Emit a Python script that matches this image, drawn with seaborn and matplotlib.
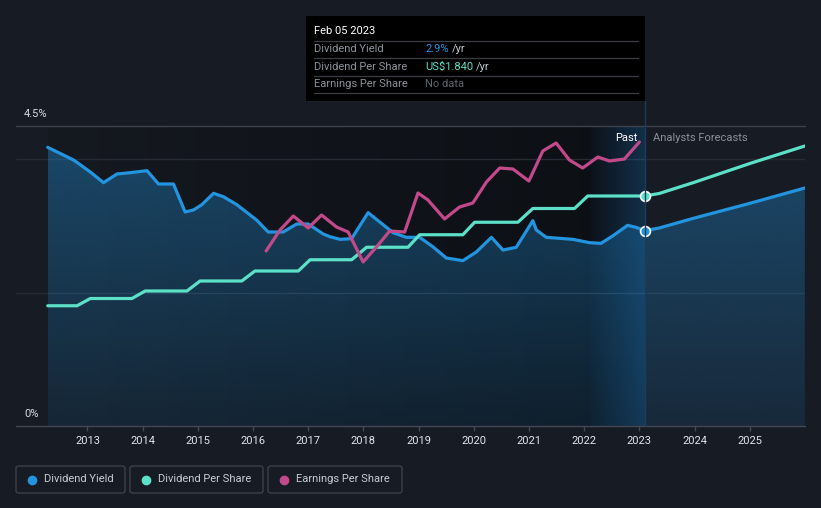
import numpy as np
import pandas as pd
import matplotlib
matplotlib.use("Agg")
import matplotlib.pyplot as plt
import matplotlib.dates as mdates
from matplotlib.patches import FancyBboxPatch, Rectangle
from matplotlib.lines import Line2D
from matplotlib.colors import to_rgb
import seaborn as sns

# ---------------- data ----------------
yield_dates = ["2012-04-13", "2012-10-01", "2013-01-20", "2013-04-17", "2013-07-15", "2013-10-12",
               "2014-01-30", "2014-04-16", "2014-07-24", "2014-10-09", "2014-12-03", "2015-01-28",
               "2015-04-15", "2015-06-19", "2015-09-16", "2016-01-25", "2016-04-11", "2016-07-19",
               "2016-10-16", "2017-01-01", "2017-04-10", "2017-05-24", "2017-07-30", "2017-10-15",
               "2018-02-01", "2018-04-19", "2018-07-16", "2018-10-12", "2019-01-08", "2019-04-05",
               "2019-07-03", "2019-10-21", "2020-01-18", "2020-04-27", "2020-07-12", "2020-10-08",
               "2021-01-26", "2021-02-18", "2021-04-25", "2021-10-18", "2022-02-05", "2022-04-22",
               "2022-07-08", "2022-10-15", "2022-12-10", "2023-02-05", "2023-05-12", "2024-01-01",
               "2025-01-01", "2025-12-31"]
yield_vals = [4.18, 3.99, 3.81, 3.65, 3.78, 3.80,
              3.83, 3.63, 3.63, 3.21, 3.24, 3.32,
              3.49, 3.44, 3.32, 3.09, 2.91, 2.91,
              3.03, 3.03, 2.88, 2.84, 2.80, 2.81,
              3.20, 3.06, 2.90, 2.83, 2.83, 2.69,
              2.52, 2.48, 2.61, 2.83, 2.64, 2.68,
              3.08, 2.94, 2.83, 2.80, 2.75, 2.74,
              2.85, 3.01, 2.98, 2.93, 2.97, 3.12,
              3.34, 3.57]

dps_dates = ["2012-04-13", "2012-10-24", "2013-01-20", "2013-10-22", "2014-01-18", "2014-10-21",
             "2015-01-16", "2015-10-19", "2016-01-14", "2016-10-27", "2017-01-13", "2017-10-15",
             "2018-01-22", "2018-10-23", "2019-01-08", "2019-10-21", "2020-01-07", "2020-10-19",
             "2021-01-26", "2021-10-29", "2022-01-24", "2023-02-05", "2023-05-12", "2024-01-01",
             "2025-01-01", "2025-12-31"]
dps_vals = [0.962, 0.962, 1.02, 1.02, 1.08, 1.08,
            1.16, 1.16, 1.24, 1.24, 1.33, 1.33,
            1.43, 1.43, 1.53, 1.53, 1.63, 1.63,
            1.74, 1.74, 1.84, 1.84, 1.86, 1.95,
            2.10, 2.24]

eps_dates = ["2016-03-28", "2016-06-28", "2016-09-24", "2017-01-01", "2017-03-30", "2017-07-07",
             "2017-09-22", "2017-12-30", "2018-03-28", "2018-06-24", "2018-10-01", "2018-12-28",
             "2019-03-04", "2019-06-22", "2019-09-29", "2019-12-26", "2020-03-25", "2020-06-21",
             "2020-09-16", "2020-12-31", "2021-04-02", "2021-06-29", "2021-09-25", "2021-12-22",
             "2022-04-01", "2022-06-17", "2022-09-24", "2023-01-01"]
eps_vals = [1.75, 1.96, 2.10, 1.98, 2.11, 1.99,
            1.94, 1.64, 1.79, 1.95, 1.94, 2.33,
            2.26, 2.07, 2.19, 2.23, 2.44, 2.58,
            2.57, 2.45, 2.75, 2.83, 2.66, 2.58,
            2.69, 2.65, 2.67, 2.84]

x_ticks = [str(y) for y in range(2013, 2026)]
y_labels = ["4.5%", "0%"]
legend_names = ["Dividend Yield", "Dividend Per Share", "Earnings Per Share"]
tooltip_date = "Feb 05 2023"
tooltip_values = ["2.9%", "US$1.840", "No data"]
marker_date = "2023-02-05"
band_start = "2022-02-05"

# ---------------- style ----------------
BG = "#161b24"
DARK = "#0c0f14"
C_YIELD = "#2394df"
C_DPS = "#5ce0c8"
C_EPS = "#c2498a"

sns.set_theme(style="dark")
plt.rcParams['font.family'] = ['Roboto', 'DejaVu Sans']

W, H = 821, 508
fig = plt.figure(figsize=(W / 100, H / 100), dpi=100, facecolor=BG)


def fx(x):
    return x / W


def fy(y):
    return 1 - y / H


ax = fig.add_axes([fx(16), fy(426), fx(805) - fx(16), fy(126) - fy(426)])
ax.set_facecolor(BG)

ydf = pd.DataFrame({"date": pd.to_datetime(yield_dates), "v": yield_vals})
ddf = pd.DataFrame({"date": pd.to_datetime(dps_dates), "v": dps_vals})
edf = pd.DataFrame({"date": pd.to_datetime(eps_dates), "v": eps_vals})

xmin = mdates.date2num(pd.Timestamp("2011-09-16"))
xmax = mdates.date2num(pd.Timestamp("2026-01-01"))
x_start = mdates.date2num(ydf["date"].iloc[0])
x_mark = mdates.date2num(pd.Timestamp(marker_date))
x_band = mdates.date2num(pd.Timestamp(band_start))

# darker "past" background, horizontal gradient
c0 = np.array(to_rgb("#151920"))
c1 = np.array(to_rgb(DARK))
t = np.linspace(0, 1, 256)
grad = (c0[None, :] * (1 - t[:, None]) + c1[None, :] * t[:, None])[None, :, :]
ax.imshow(grad, extent=[x_start, x_mark, 0, 4.5], aspect="auto", zorder=0.5, interpolation="bicubic")

# gridlines
for gv in [2, 4]:
    ax.axhline(gv, color="#262b34", lw=1, zorder=1)

# gradient fill under dividend yield
poly = ax.fill_between(ydf["date"], 0, ydf["v"], color="none", lw=0)
rgb = np.array(to_rgb(C_YIELD))
tt = np.linspace(1, 0, 256)  # top -> bottom
alpha = 0.12 + 0.28 * tt
fill_img = np.zeros((256, 1, 4))
fill_img[:, 0, :3] = rgb
fill_img[:, 0, 3] = alpha
im = ax.imshow(fill_img, extent=[x_start, xmax, 0, 4.5], aspect="auto", zorder=1.5, interpolation="bicubic")
im.set_clip_path(poly.get_paths()[0], transform=ax.transData)

# past-12-months highlight band
band = np.zeros((1, 256, 4))
band[0, :, :3] = np.array(to_rgb("#1f78c0"))
band[0, :, 3] = np.linspace(0.03, 0.32, 256)
ax.imshow(band, extent=[x_band, x_mark, 0, 4.5], aspect="auto", zorder=1.6, interpolation="bicubic")

sns.lineplot(data=ydf, x="date", y="v", ax=ax, color=C_YIELD, lw=2.3, zorder=3)
mi = yield_dates.index(marker_date)
ax.scatter([ydf["date"].iloc[mi]], [ydf["v"].iloc[mi]], s=50, color=C_YIELD, edgecolor="white",
           linewidth=1.2, zorder=6)

ax.set_xlim(xmin, xmax)
ax.set_ylim(0, 4.5)

# twin axes for DPS and EPS (own hidden scales)
ax_d = ax.twinx()
ax_e = ax.twinx()
for a in (ax_d, ax_e):
    a.patch.set_visible(False)
    a.grid(False)
    for s in a.spines.values():
        s.set_visible(False)
ax_d.set_ylim(0, 2.4)
ax_e.set_ylim(0, 3.0)

sns.lineplot(data=edf, x="date", y="v", ax=ax_e, color=C_EPS, lw=2.3)
sns.lineplot(data=ddf, x="date", y="v", ax=ax_d, color=C_DPS, lw=2.3)
di = dps_dates.index(marker_date)
ax_d.scatter([ddf["date"].iloc[di]], [ddf["v"].iloc[di]], s=50, color=C_DPS, edgecolor="white",
             linewidth=1.2, zorder=6)
for a in (ax_d, ax_e):
    a.set_ylabel("")
    a.set_yticks([])
    a.set_xlim(xmin, xmax)
    a.tick_params(axis="x", bottom=False, labelbottom=False)

# axes styling
ax.grid(False)
for side in ["left", "right"]:
    ax.spines[side].set_visible(False)
ax.spines["top"].set_color("#3d424c")
ax.spines["top"].set_linewidth(1)
ax.spines["bottom"].set_color("#434852")
ax.spines["bottom"].set_linewidth(1)
ax.set_yticks([])
ax.set_xlabel("")
ax.set_ylabel("")
ax.set_xticks([mdates.date2num(pd.Timestamp(f"{y}-01-01")) for y in x_ticks])
ax.set_xticklabels(x_ticks)
ax.tick_params(axis="x", colors="#434852", labelcolor="#e2e5ea", labelsize=8, length=3.5,
               width=1, pad=3.5, direction="out", bottom=True)

# y labels
fig.text(fx(24), fy(114), y_labels[0], color="#d8dbe0", fontsize=8, ha="left", va="center")
fig.text(fx(24), fy(414), y_labels[1], color="#d8dbe0", fontsize=8, ha="left", va="center")

# Past / Analysts Forecasts
fig.text(fx(637), fy(138), "Past", color="#ffffff", fontsize=8, ha="right", va="center")
fig.text(fx(653), fy(138), "Analysts Forecasts", color="#8b9099", fontsize=8, ha="left", va="center")

# vertical tooltip line
fig.add_artist(Line2D([fx(645), fx(645)], [fy(101), fy(426)], color="#1f3b56", lw=1, zorder=2))

# tooltip box
fig.add_artist(Rectangle((fx(306), fy(101)), fx(645) - fx(306), fy(16) - fy(101),
                         facecolor="#000000", edgecolor="none", zorder=10))
fig.text(fx(314), fy(31), tooltip_date, color="#ffffff", fontsize=8, ha="left", va="center", zorder=11)
for sy in [41.3, 58.3, 76, 92.7]:
    fig.add_artist(Line2D([fx(314), fx(638)], [fy(sy), fy(sy)], color="#3a3d43", lw=0.9, zorder=11))
rows_y = [49.5, 66.5, 84]
val_colors = [C_YIELD, C_DPS, "#5f646c"]
yr_x = [451.5, 475.5, None]
for name, val, vc, ry, yx in zip(legend_names, tooltip_values, val_colors, rows_y, yr_x):
    fig.text(fx(314), fy(ry), name, color="#8e939a", fontsize=8, ha="left", va="center", zorder=11)
    fig.text(fx(425), fy(ry), val, color=vc, fontsize=8, ha="left", va="center", zorder=11)
    if yx is not None:
        fig.text(fx(yx), fy(ry), "/yr", color="#c4c8ce", fontsize=8, ha="left", va="center", zorder=11)

# legend boxes
boxes = [(16, 125), (130, 263), (268, 402)]
dots = [32, 146, 284]
cols = [C_YIELD, C_DPS, C_EPS]
for (x0, x1), dx, c, name in zip(boxes, dots, cols, legend_names):
    fig.add_artist(FancyBboxPatch((fx(x0), fy(493)), fx(x1) - fx(x0), fy(466) - fy(493),
                                  boxstyle="round,pad=0,rounding_size=0.004",
                                  facecolor="none", edgecolor="#3b404a", lw=1))
    fig.add_artist(Line2D([fx(dx)], [fy(479.5)], marker="o", markersize=6, color=c, lw=0))
    fig.text(fx(dx + 12), fy(479.5), name, color="#c8ccd2", fontsize=8, ha="left", va="center")

fig.savefig("out.png", dpi=100, facecolor=BG)
